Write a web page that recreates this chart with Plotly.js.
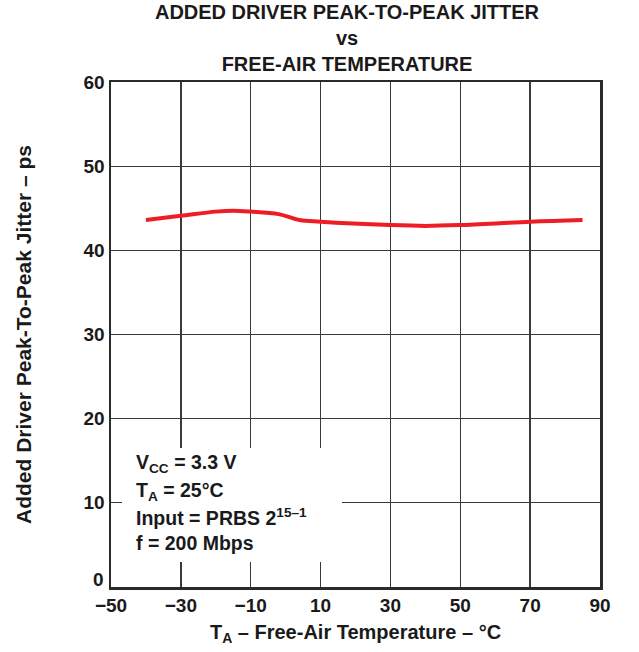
<!DOCTYPE html>
<html>
<head>
<meta charset="utf-8">
<script src="https://cdn.plot.ly/plotly-3.0.1.min.js"></script>
<style>html,body{margin:0;padding:0;background:#fff;}#chart{width:639px;height:652px;}</style>
</head>
<body>
<div id="chart"></div>
<script>
// Data
const temperatureC = [-40, -30, -20, -15, -10, -2, 4, 10, 30, 40, 50, 70, 85];
const jitterPs = [43.6, 44.1, 44.6, 44.7, 44.6, 44.3, 43.6, 43.4, 43.0, 42.9, 43.0, 43.4, 43.6];
const xTicks = [-50, -30, -10, 10, 30, 50, 70, 90];
const yTicks = [0, 10, 20, 30, 40, 50, 60];
const conditionLines = [
  "V<sub>CC</sub> = 3.3 V",
  "T<sub>A</sub> = 25°C",
  "Input = PRBS 2<sup>15–1</sup>",
  "f = 200 Mbps"
];

const FONT = "Liberation Sans, Arial, Helvetica, sans-serif";
const W = 639, H = 652;
const M = {l: 111, r: 39, t: 82, b: 65};
const PW = W - M.l - M.r, PH = H - M.t - M.b;
const px = x => (x - M.l) / PW;
const py = y => (H - M.b - y) / PH;

const lineY = [463, 491, 517, 543];
const annotations = conditionLines.map((t, i) => ({
  text: "<b>" + t + "</b>",
  xref: "paper", yref: "paper",
  x: px(134), y: py(lineY[i]),
  xanchor: "left", yanchor: "middle",
  showarrow: false,
  font: {family: FONT, size: 19.5, color: "#1a1a1a"}
}));
// the "0" y tick label sits slightly above the axis corner in the reference
annotations.push({
  text: "<b>" + yTicks[0] + "</b>",
  xref: "paper", yref: "paper",
  x: px(106), y: py(579),
  xanchor: "right", yanchor: "middle",
  showarrow: false,
  font: {family: FONT, size: 19, color: "#1a1a1a"}
});

const data = [{
  x: temperatureC,
  y: jitterPs,
  type: "scatter",
  mode: "lines",
  line: {color: "#ee1c25", width: 4, shape: "spline", smoothing: 1},
  hoverinfo: "skip"
}];

const axisCommon = {
  showline: true, mirror: true, linecolor: "#2a2a2a", linewidth: 2.5,
  showgrid: true, gridcolor: "#3a3a3a", gridwidth: 1.3,
  zeroline: false, ticks: "",
  tickfont: {family: FONT, size: 19, color: "#1a1a1a", weight: "bold"},
  fixedrange: true
};

const layout = {
  width: W, height: H,
  margin: M,
  paper_bgcolor: "#fff", plot_bgcolor: "#fff",
  showlegend: false,
  title: {
    text: "<b>ADDED DRIVER PEAK-TO-PEAK JITTER<br>vs<br>FREE-AIR TEMPERATURE</b>",
    font: {family: FONT, size: 20, color: "#1a1a1a"},
    xref: "paper", x: px(347), xanchor: "center",
    yref: "container", y: 1 - 19 / H, yanchor: "top"
  },
  xaxis: Object.assign({}, axisCommon, {
    range: [-50, 90], tickmode: "array", tickvals: xTicks,
    ticktext: xTicks.map(v => (v < 0 ? "\u2212" + Math.abs(v) : String(v))),
    title: {text: "<b>T<sub>A</sub> – Free-Air Temperature – °C</b>", font: {family: FONT, size: 20, color: "#1a1a1a"}, standoff: 10}
  }),
  yaxis: Object.assign({}, axisCommon, {
    range: [0, 60], tickmode: "array", tickvals: yTicks,
    ticktext: yTicks.map(v => (v === 0 ? "" : String(v))),
    title: {text: "<b>Added Driver Peak-To-Peak Jitter – ps</b>", font: {family: FONT, size: 21, color: "#1a1a1a"}, standoff: 46}
  }),
  shapes: [{
    type: "rect", xref: "paper", yref: "paper",
    x0: px(122), x1: px(342), y0: py(562), y1: py(448),
    fillcolor: "#fff", line: {width: 0}, layer: "above"
  }],
  annotations: annotations
};

Plotly.newPlot("chart", data, layout, {displayModeBar: false, staticPlot: true});
</script>
</body>
</html>
